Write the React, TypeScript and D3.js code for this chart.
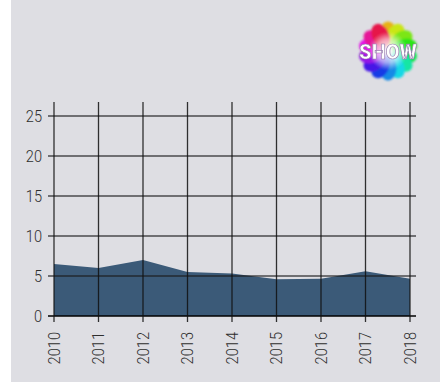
import React from "react";
import * as d3 from "d3";

const years = [2010, 2011, 2012, 2013, 2014, 2015, 2016, 2017, 2018];
const values = [6.5, 6.0, 7.0, 5.5, 5.3, 4.6, 4.65, 5.6, 4.65];
const yTicks = [0, 5, 10, 15, 20, 25];

const W = 440;
const H = 390;
const x0 = 54, x1 = 410;
const yBottom = 316, yTopVal = 116;

export default function App() {
  const x = d3.scaleLinear().domain([2010, 2018]).range([x0, x1]);
  const y = d3.scaleLinear().domain([0, 25]).range([yBottom, yTopVal]);
  const area = d3
    .area<number>()
    .x((_, i) => x(years[i]))
    .y0(y(0))
    .y1((d) => y(d));

  const petals = d3.range(14);
  const cx = 388, cy = 51;
  const font = "Roboto, 'Liberation Sans', sans-serif";

  return (
    <svg
      width={W}
      height={H}
      style={{ position: "absolute", left: 0, top: 0 }}
      xmlns="http://www.w3.org/2000/svg"
    >
      <defs>
        <radialGradient id="glow" cx="50%" cy="50%" r="50%">
          <stop offset="0%" stopColor="#ffffff" stopOpacity={0.95} />
          <stop offset="60%" stopColor="#ffffff" stopOpacity={0.6} />
          <stop offset="100%" stopColor="#ffffff" stopOpacity={0} />
        </radialGradient>
        <filter id="soft" x="-20%" y="-20%" width="140%" height="140%">
          <feGaussianBlur stdDeviation="1.1" />
        </filter>
      </defs>
      <rect x={11} y={0} width={W - 11} height={382} fill="#dedee3" />

      {/* logo */}
      <g filter="url(#soft)">
        {petals.map((i) => {
          const a = (i / petals.length) * 360;
          const hue = (45 + a * 0.9) % 360;
          const color = d3.hsl(hue, 0.8, 0.5).toString();
          return (
            <ellipse
              key={i}
              cx={cx}
              cy={cy - 17}
              rx={8.5}
              ry={12.5}
              fill={color}
              transform={`rotate(${a} ${cx} ${cy})`}
            />
          );
        })}
        <circle cx={cx} cy={cy} r={19} fill="url(#glow)" />
      </g>
      <text
        x={cx}
        y={cy + 8}
        textAnchor="middle"
        fontFamily={font}
        fontWeight={900}
        fontSize={20}
        fill="#ffffff"
        stroke="#9a7fb0"
        strokeWidth={0.7}
        filter="url(#soft)"
        style={{ filter: "blur(0.4px)" }}
      >
        SHOW
      </text>

      <path d={area(values) || ""} fill="#3b5a78" />

      {/* horizontal grid */}
      {yTicks.map((t) => (
        <line
          key={"h" + t}
          x1={48}
          x2={416}
          y1={y(t)}
          y2={y(t)}
          stroke={t === 0 ? "#000" : "#1a1a1a"}
          strokeOpacity={t === 0 ? 1 : 0.75}
          strokeWidth={t === 0 ? 1.6 : 1.3}
        />
      ))}
      {/* vertical grid */}
      {years.map((yr) => (
        <line
          key={"v" + yr}
          x1={x(yr)}
          x2={x(yr)}
          y1={102}
          y2={yBottom + 6}
          stroke="#111"
          strokeOpacity={0.85}
          strokeWidth={1.3}
        />
      ))}

      {yTicks.map((t) => (
        <text
          key={"yl" + t}
          x={0}
          y={0}
          textAnchor="end"
          dominantBaseline="central"
          fontFamily={font}
          fontWeight={300}
          fontSize={17}
          fill="#2e2e2e"
          transform={`translate(42 ${y(t)}) scale(0.86 1)`}
        >
          {t}
        </text>
      ))}
      {years.map((yr) => (
        <text
          key={"xl" + yr}
          x={0}
          y={0}
          textAnchor="end"
          dominantBaseline="central"
          fontFamily={font}
          fontWeight={300}
          fontSize={17}
          fill="#2e2e2e"
          transform={`translate(${x(yr)} 332) rotate(-90) scale(0.86 1)`}
        >
          {yr}
        </text>
      ))}
    </svg>
  );
}
